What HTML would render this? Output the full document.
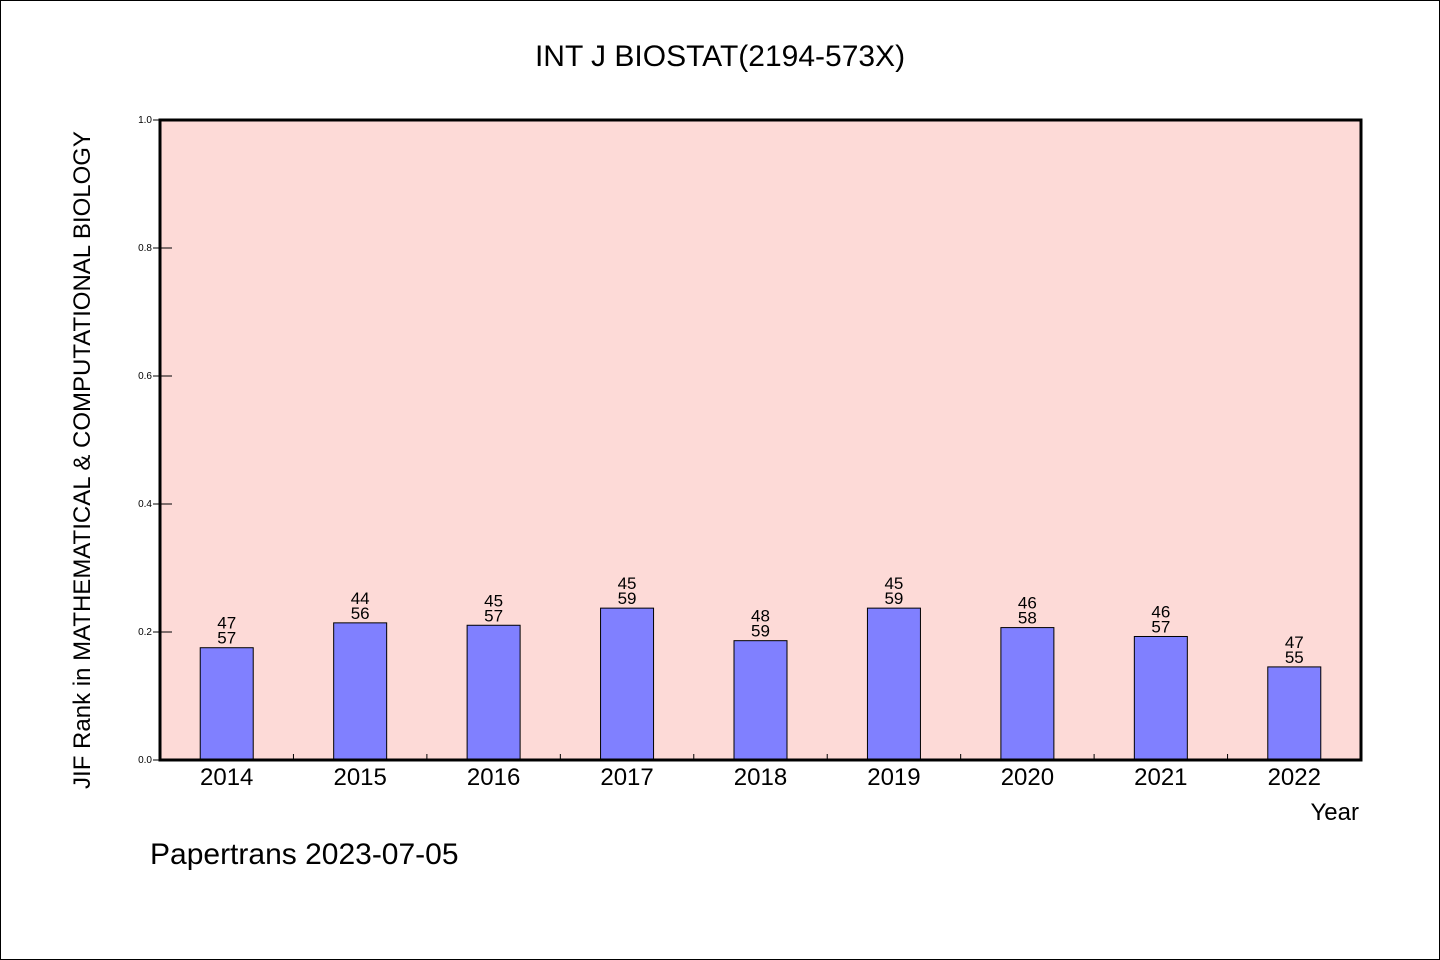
<!DOCTYPE html>
<html><head><meta charset="utf-8"><style>
body{margin:0;background:#fff}
svg{display:block}
text{font-family:"WenQuanYi Zen Hei","Liberation Sans",sans-serif;fill:#000}
</style></head><body>
<svg width="1440" height="960" id="c">
<rect x="0.5" y="0.5" width="1439" height="959" fill="#fff" stroke="#000"/>
<text x="720" y="66" font-size="30" text-anchor="middle">INT J BIOSTAT(2194-573X)</text>
<rect x="160" y="120" width="1201" height="640" fill="#fddad7"/>
<g id="bars"></g>
<rect x="160" y="120" width="1201" height="640" fill="none" stroke="#000" stroke-width="3"/>
<text transform="translate(90,460) rotate(-90)" font-size="24" text-anchor="middle">JIF Rank in MATHEMATICAL &amp; COMPUTATIONAL BIOLOGY</text>
<text x="1359" y="820" font-size="24" text-anchor="end">Year</text>
<text x="150" y="864" font-size="30">Papertrans 2023-07-05</text>
</svg>
<script>
const years=["2014","2015","2016","2017","2018","2019","2020","2021","2022"];
const ranks=[47,44,45,45,48,45,46,46,47];
const totals=[57,56,57,59,59,59,58,57,55];
const yTicks=[0,0.2,0.4,0.6,0.8,1.0];
const NS="http://www.w3.org/2000/svg";
const X0=160,W=1201,Y0=760,H=640;
const bw=W/years.length;
const yS=v=>Y0-v*H;
const g=document.getElementById('bars');
function el(t,a){const e=document.createElementNS(NS,t);for(const k in a)e.setAttribute(k,a[k]);g.appendChild(e);return e;}
yTicks.forEach(t=>{
 const l=el('line',{x1:153,x2:172,y1:yS(t),y2:yS(t),stroke:'#000','stroke-width':1});
 
 
 const tx=el('text',{x:152,y:yS(t)+3,'font-size':10,'text-anchor':'end'});
 tx.textContent=t.toFixed(1);
 
 
});
years.forEach((y,i)=>{
 const v=1-ranks[i]/totals[i];
 const cx=X0+bw*(i+0.5);
 const r=el('rect',{x:cx-26.5,y:yS(v),width:53,height:Y0-yS(v),fill:'#8080ff',stroke:'#000','stroke-width':1});
 
 
 const a=el('text',{x:cx,y:yS(v)-19,'font-size':17,'text-anchor':'middle'});a.textContent=ranks[i];
 
 
 const b=el('text',{x:cx,y:yS(v)-4,'font-size':17,'text-anchor':'middle'});b.textContent=totals[i];
 
 
 const xl=el('text',{x:cx,y:785,'font-size':24,'text-anchor':'middle'});xl.textContent=y;
 
 
 if(i>0){const tk=el('line',{x1:X0+bw*i,x2:X0+bw*i,y1:754,y2:760,stroke:'#000'});
 
 }
});
</script>
</body></html>
